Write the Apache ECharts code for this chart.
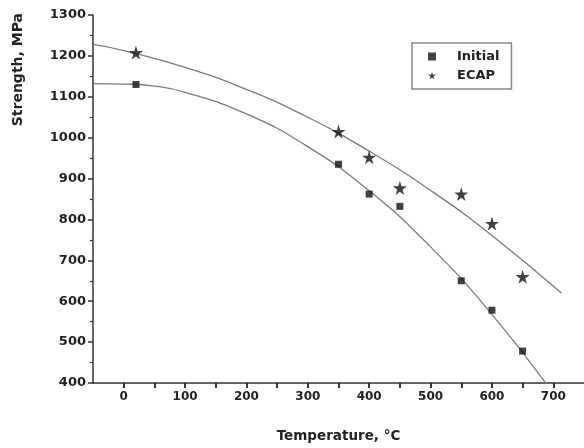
<!DOCTYPE html>
<html><head><meta charset="utf-8">
<script src="https://cdn.jsdelivr.net/npm/echarts@6/dist/echarts.min.js"></script>
<style>html,body{margin:0;padding:0;background:#fff}#c{width:584px;height:448px}</style>
</head><body><div id="c"></div>
<script>
const tempsInitial = [20, 350, 400, 450, 550, 600, 650];
const initialStrength = [1130, 935, 862, 832, 650, 578, 478];
const tempsECAP = [20, 350, 400, 450, 550, 600, 650];
const ecapStrength = [1208, 1015, 952, 877, 862, 790, 660];
const fitTempsInitial = [-50, 0, 50, 100, 200, 300, 400, 500, 600, 690];
const fitInitial = [1132, 1131, 1126, 1111, 1058, 978, 870, 733, 568, 395];
const fitTempsECAP = [-50, 0, 100, 200, 300, 400, 500, 600, 713];
const fitECAP = [1228, 1213, 1172, 1118, 1050, 967, 871, 761, 620];

const pair = (xs, ys) => xs.map((x, i) => [x, ys[i]]);
const star = 'path://M50,0 L61,35 L98,35 L68,57 L79,91 L50,70 L21,91 L32,57 L2,35 L39,35 Z';
const font = 'DejaVu Sans';
const axisColor = '#333';

const chart = echarts.init(document.getElementById('c'), null, {renderer: 'canvas'});
chart.setOption({
  animation: false,
  backgroundColor: '#fff',
  grid: {left: 93, right: 0, top: 15, bottom: 65, containLabel: false},
  xAxis: {
    type: 'value', min: -50, max: 750, interval: 50,
    name: 'Temperature, °C', nameLocation: 'middle', nameGap: 46,
    nameTextStyle: {fontFamily: font, fontWeight: 'bold', fontSize: 13.5, color: '#222'},
    axisLine: {show: true, onZero: false, lineStyle: {color: axisColor, width: 1.5}},
    axisTick: {show: true, inside: false, length: 5, lineStyle: {color: '#222', width: 1.8}},
    axisLabel: {formatter: v => (v % 100 === 0 && v >= 0 && v <= 700) ? String(v) : '',
      showMinLabel: false, showMaxLabel: false,
      fontFamily: font, fontWeight: 'bold', fontSize: 12, color: '#222', margin: 8},
    splitLine: {show: false}
  },
  yAxis: {
    type: 'value', min: 400, max: 1300, interval: 100,
    axisLine: {show: true, onZero: false, lineStyle: {color: axisColor, width: 1.5}},
    axisTick: {show: true, length: 5, lineStyle: {color: axisColor, width: 1.5}},
    minorTick: {show: true, splitNumber: 2, length: 3, lineStyle: {color: axisColor, width: 1.2}},
    axisLabel: {formatter: v => String(v), fontFamily: font, fontWeight: 'bold', fontSize: 13, color: '#222', margin: 7},
    splitLine: {show: false}
  },
  graphic: [{
    type: 'text', left: 11, top: 13, rotation: Math.PI / 2,
    style: {text: 'Strength, MPa', fontFamily: font, fontWeight: 'bold', fontSize: 14, fill: '#222'}
  }],
  legend: {
    orient: 'vertical', left: 412, top: 43,
    borderColor: '#888', borderWidth: 1.5, padding: [7, 12, 7, 16],
    itemGap: 6, itemWidth: 8, itemHeight: 8,
    textStyle: {fontFamily: font, fontWeight: 'bold', fontSize: 13, color: '#222', padding: [0, 0, 0, 16]},
    data: [
      {name: 'Initial', icon: 'rect'},
      {name: 'ECAP', icon: star}
    ]
  },
  series: [
    {name: 'Initial fit', type: 'line', data: pair(fitTempsInitial, fitInitial), smooth: true, showSymbol: false, symbol: 'none',
     lineStyle: {color: '#7a7a7a', width: 1.3}, z: 1},
    {name: 'ECAP fit', type: 'line', data: pair(fitTempsECAP, fitECAP), smooth: true, showSymbol: false, symbol: 'none',
     lineStyle: {color: '#7a7a7a', width: 1.3}, z: 1},
    {name: 'Initial', type: 'scatter', data: pair(tempsInitial, initialStrength), symbol: 'rect', symbolSize: 7,
     itemStyle: {color: '#111'}, z: 3},
    {name: 'ECAP', type: 'scatter', data: pair(tempsECAP, ecapStrength), symbol: star, symbolSize: 14,
     itemStyle: {color: '#111'}, z: 3}
  ]
});
</script></body></html>
